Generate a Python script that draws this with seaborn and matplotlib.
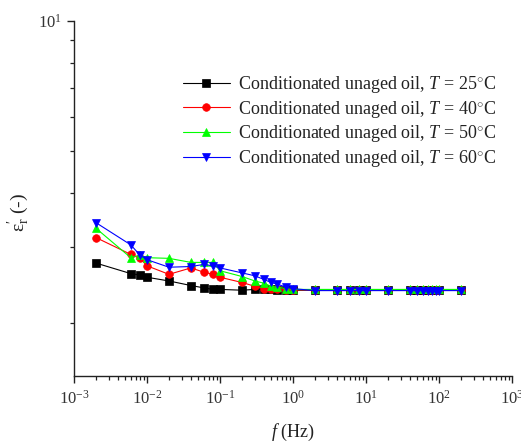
import numpy as np
import pandas as pd
import matplotlib
matplotlib.use("Agg")
import matplotlib.pyplot as plt
import matplotlib.ticker as mticker
import seaborn as sns

freq = [0.002, 0.006, 0.008, 0.01, 0.02, 0.04, 0.06, 0.08, 0.1, 0.2, 0.3, 0.4,
        0.5, 0.6, 0.8, 1, 2, 4, 6, 8, 10, 20, 40, 50, 60, 70, 80, 90, 100, 200]

eps_25 = [2.75, 2.60, 2.58, 2.55, 2.50, 2.44, 2.41, 2.39, 2.39, 2.38, 2.39, 2.39,
          2.39, 2.385, 2.385, 2.38, 2.38, 2.38, 2.38, 2.38, 2.38, 2.38, 2.38, 2.38,
          2.38, 2.38, 2.38, 2.38, 2.38, 2.38]
eps_40 = [3.15, 2.88, 2.82, 2.71, 2.59, 2.68, 2.62, 2.59, 2.55, 2.48, 2.43, 2.40,
          2.39, 2.39, 2.385, 2.385, 2.385, 2.385, 2.385, 2.385, 2.385, 2.385, 2.385, 2.385,
          2.385, 2.385, 2.385, 2.385, 2.385, 2.385]
eps_50 = [3.31, 2.83, 2.87, 2.83, 2.82, 2.76, 2.76, 2.76, 2.64, 2.56, 2.50, 2.47,
          2.43, 2.42, 2.40, 2.39, 2.39, 2.39, 2.39, 2.39, 2.39, 2.39, 2.39, 2.39,
          2.39, 2.39, 2.39, 2.39, 2.39, 2.39]
eps_60 = [3.41, 3.03, 2.87, 2.80, 2.69, 2.70, 2.73, 2.71, 2.68, 2.61, 2.57, 2.52,
          2.48, 2.46, 2.42, 2.40, 2.375, 2.375, 2.375, 2.375, 2.375, 2.375, 2.375, 2.375,
          2.375, 2.375, 2.375, 2.375, 2.375, 2.375]

temps = ["25", "40", "50", "60"]
series = [eps_25, eps_40, eps_50, eps_60]
colors = ["#000000", "#FF0000", "#00FF00", "#0000FF"]
markers = ["s", "o", "^", "v"]

sns.set_style("ticks")
plt.rcParams["font.family"] = ["Liberation Serif", "DejaVu Serif"]
plt.rcParams["mathtext.fontset"] = "custom"
plt.rcParams["mathtext.rm"] = "Liberation Serif"
plt.rcParams["mathtext.it"] = "Liberation Serif:italic"
plt.rcParams["mathtext.bf"] = "Liberation Serif:bold"

fig = plt.figure(figsize=(5.21, 4.42), dpi=100)
ax = fig.add_axes([74 / 521, 1 - 376 / 442, (512 - 74) / 521, (376 - 20.7) / 442])

for t, vals, c, m in zip(temps, series, colors, markers):
    df = pd.DataFrame({"f": freq, "eps": vals})
    sns.lineplot(data=df, x="f", y="eps", ax=ax, color=c, marker=m,
                 markersize=5.5, markeredgecolor=c, markeredgewidth=0.5,
                 linewidth=0.8, alpha=1.0,
                 label=r"Conditionated unaged oil, $\mathit{T}$ = " + t + r"$^{\circ}$C")

ax.set_xscale("log")
ax.set_yscale("log")
ax.set_xlim(1e-3, 1e3)
ax.set_ylim(1.507, 10)

ax.xaxis.set_major_locator(mticker.LogLocator(base=10, numticks=20))
ax.xaxis.set_minor_locator(mticker.LogLocator(base=10, subs=np.arange(2, 10), numticks=20))
ax.xaxis.set_minor_formatter(mticker.NullFormatter())
ax.yaxis.set_major_locator(mticker.FixedLocator([10]))
ax.yaxis.set_major_formatter(mticker.FixedFormatter([r"$10^{1}$"]))
ax.yaxis.set_minor_locator(mticker.FixedLocator([2, 3, 4, 5, 6, 7, 8, 9]))
ax.yaxis.set_minor_formatter(mticker.NullFormatter())

for side in ["top", "right"]:
    ax.spines[side].set_visible(False)
for side in ["left", "bottom"]:
    ax.spines[side].set_linewidth(1.0)
    ax.spines[side].set_color("#222222")

ax.tick_params(axis="both", which="major", direction="out", length=5, width=1.0,
               labelsize=12, colors="#222222", labelcolor="#333333")
ax.tick_params(axis="x", which="major", pad=5)
ax.tick_params(axis="both", which="minor", direction="out", length=3, width=0.9,
               colors="#222222")

ax.set_xlabel(r"$\mathit{f}$ (Hz)", fontsize=13, color="#222222")
ax.set_ylabel(r"$\mathrm{\varepsilon}^{\prime}_{\mathrm{r}}$ (-)", fontsize=14, color="#222222")
ax.yaxis.set_label_coords(-0.095, 0.46)
ax.xaxis.set_label_coords(0.5, -0.128)

leg = ax.legend(loc="upper left", bbox_to_anchor=(183 / 521, 1 - 74 / 442),
                bbox_transform=fig.transFigure, frameon=False, fontsize=13,
                handlelength=2.6, handletextpad=0.45, labelspacing=0.2,
                borderpad=0, borderaxespad=0)
for txt in leg.get_texts():
    txt.set_color("#222222")

fig.savefig("out.png", dpi=100)
